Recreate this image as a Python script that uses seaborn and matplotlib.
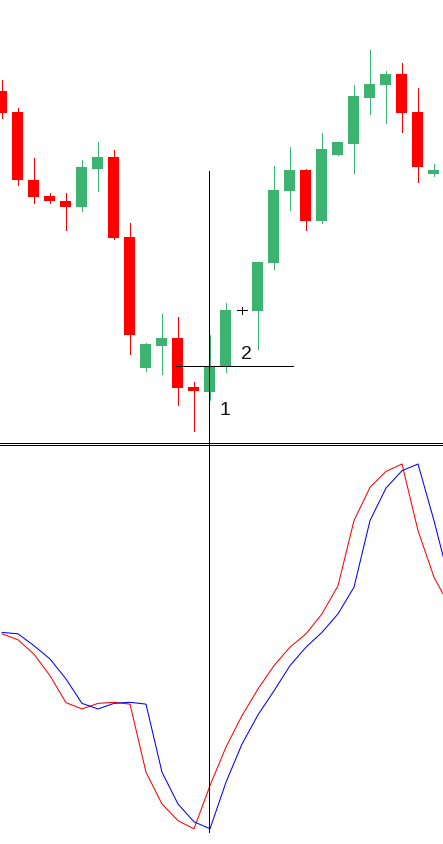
import numpy as np
import pandas as pd
import matplotlib
matplotlib.use("Agg")
import matplotlib.pyplot as plt
import seaborn as sns
from matplotlib.lines import Line2D

# ---------------- data ----------------
opens  = [1.0816, 1.0774, 1.0638, 1.0606, 1.0596, 1.0585, 1.0661, 1.0684, 1.0524, 1.0263,
          1.0307, 1.0322, 1.0225, 1.0215, 1.0265, 1.0378, 1.0377, 1.0473, 1.0617, 1.0658,
          1.0557, 1.0689, 1.0711, 1.0803, 1.0829, 1.0850, 1.0774, 1.0651]
highs  = [1.0838, 1.0782, 1.0682, 1.0612, 1.0612, 1.0678, 1.0714, 1.0698, 1.0552, 1.0312,
          1.0370, 1.0364, 1.0234, 1.0328, 1.0392, 1.0385, 1.0474, 1.0666, 1.0704, 1.0660,
          1.0732, 1.0714, 1.0828, 1.0898, 1.0856, 1.0872, 1.0822, 1.0670]
lows   = [1.0762, 1.0629, 1.0593, 1.0593, 1.0539, 1.0577, 1.0615, 1.0521, 1.0291, 1.0257,
          1.0251, 1.0189, 1.0137, 1.0199, 1.0253, 1.0371, 1.0301, 1.0461, 1.0579, 1.0539,
          1.0553, 1.0689, 1.0653, 1.0771, 1.0753, 1.0735, 1.0635, 1.0647]
closes = [1.0773, 1.0639, 1.0605, 1.0595, 1.0585, 1.0664, 1.0684, 1.0523, 1.0329, 1.0310,
          1.0322, 1.0223, 1.0217, 1.0267, 1.0378, 1.0378, 1.0474, 1.0619, 1.0658, 1.0557,
          1.0700, 1.0714, 1.0806, 1.0830, 1.0850, 1.0773, 1.0665, 1.0658]

# stochastic oscillator (%K red, %D blue); one extra bar beyond the right edge
stoch_k = [54.1, 52.5, 48.6, 42.8, 35.5, 33.8, 35.3, 35.6, 35.1, 16.7, 8.1, 3.6, 1.4, 13.1,
           23.5, 32.0, 39.2, 45.5, 50.5, 54.1, 59.5, 67.1, 84.7, 93.7, 98.0, 100.0, 82.0,
           69.4, 61.4]
stoch_d = [54.5, 54.1, 50.9, 47.3, 41.9, 35.3, 33.8, 35.3, 35.6, 35.1, 16.7, 8.1, 3.3, 1.4,
           14.0, 24.3, 32.2, 38.7, 45.5, 50.5, 54.5, 59.5, 66.7, 84.7, 93.5, 98.2, 100.0,
           84.7, 67.8]

cursor_bar = 12.95
cursor_price = 1.0267
labels = ["1", "2"]

# ---------------- style ----------------
sns.set_style("white")
plt.rcParams['font.family'] = ['Liberation Sans', 'DejaVu Sans']

GREEN = "#3CB371"
RED = "#FF0000"
W, H = 443, 845
fig = plt.figure(figsize=(W / 100, H / 100), dpi=100)
fig.patch.set_facecolor("white")

ax_p = fig.add_axes([0, (H - 443) / H, 1, 443 / H])
ax_s = fig.add_axes([0, 0, 1, (H - 446) / H])
for ax in (ax_p, ax_s):
    ax.set_axis_off()
    ax.patch.set_alpha(0)

LW = 0.65  # ~1 pixel at 100 dpi

# ---------------- candles ----------------
n = len(opens)
x = np.arange(n)
o = np.array(opens); c = np.array(closes); h = np.array(highs); l = np.array(lows)
cols = np.where(c > o, GREEN, np.where(c < o, RED, "black"))

ax_p.vlines(x, l, h, colors=cols, linewidth=LW, antialiased=False, zorder=2)
body_bottom = np.minimum(o, c)
body_h = np.abs(c - o)
ax_p.bar(x, body_h, bottom=body_bottom, width=0.6875, color=cols, linewidth=0,
         antialiased=False, zorder=3)
doji = (c == o)
ax_p.hlines(c[doji], x[doji] - 0.34, x[doji] + 0.34, colors="black",
            linewidth=LW, antialiased=False, zorder=3)

xmin, xmax = -0.125, 27.5625
ax_p.set_xlim(xmin, xmax)
ax_p.set_ylim(1.1 - 0.0002 * 443, 1.1)

# crosshair horizontal + labels
ax_p.hlines(cursor_price, 10.875, 18.19, colors="black", linewidth=LW,
            antialiased=False, zorder=5)
ax_p.text(13.94, 1.0170, labels[0], ha="center", va="baseline", fontsize=14, color="#111111")
ax_p.text(15.25, 1.0281, labels[1], ha="center", va="baseline", fontsize=14, color="#111111")

# ---------------- oscillator ----------------
df = pd.DataFrame({
    "bar": np.concatenate([np.arange(len(stoch_k)), np.arange(len(stoch_d))]),
    "value": stoch_k + stoch_d,
    "line": ["K"] * len(stoch_k) + ["D"] * len(stoch_d),
})
sns.lineplot(data=df, x="bar", y="value", hue="line",
             palette={"K": "#FF0000", "D": "#0000FF"}, errorbar=None,
             legend=False, ax=ax_s)
for ln in ax_s.get_lines():
    ln.set_linewidth(0.75)
    ln.set_antialiased(True)
ax_s.set_xlim(xmin, xmax)
ax_s.set_ylim((835 - 845) / 3.7, (835 - 446) / 3.7)
ax_s.set_axis_off()

# crosshair vertical line across both panels
ax_s.vlines(cursor_bar, 0.5, (835 - 172) / 3.7, colors="black", linewidth=LW,
            antialiased=False, clip_on=False, zorder=10)

# double separator line
for yy in (443.5, 446.0):
    fig.add_artist(Line2D([0, 1], [1 - yy / H, 1 - yy / H], transform=fig.transFigure,
                          color="black", linewidth=LW, antialiased=False))

fig.savefig("out.png", dpi=100, facecolor="white")
